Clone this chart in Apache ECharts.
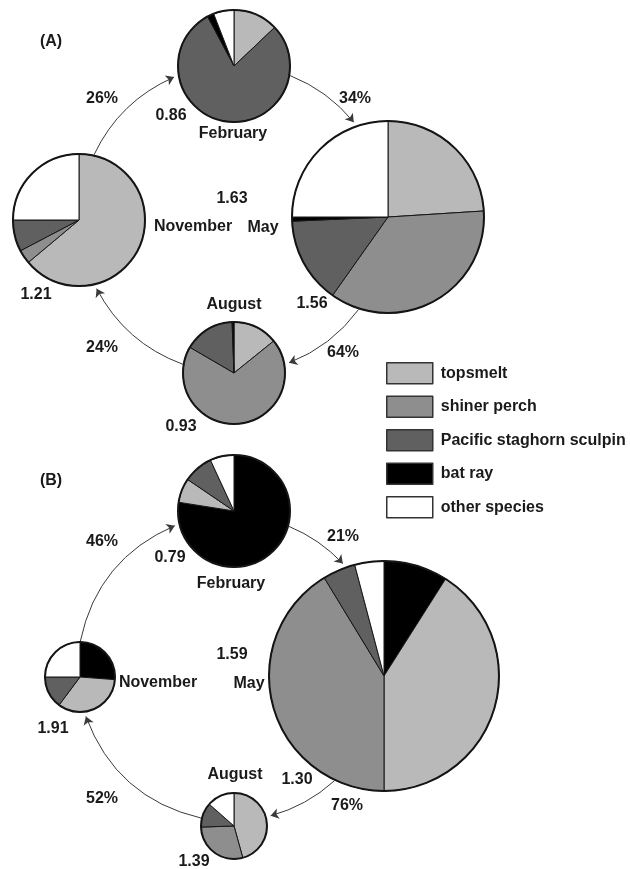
<!DOCTYPE html>
<html><head><meta charset="utf-8">
<script src="https://cdn.jsdelivr.net/npm/echarts@6/dist/echarts.min.js"></script>
<style>html,body{margin:0;padding:0;background:#fff}#c{width:630px;height:869px}</style>
</head><body><div id="c"></div>
<script>
// ---- data ----
const species = ['topsmelt', 'shiner perch', 'Pacific staghorn sculpin', 'bat ray', 'other species'];
const months = ['February', 'May', 'August', 'November'];
// diet composition (%) per month, in species order
const panelA_February = [12.9, 0, 79.2, 1.9, 5.9];
const panelA_May      = [24.0, 35.8, 14.5, 0.7, 25.0];
const panelA_August   = [14.2, 69.2, 16.0, 0.6, 0];
const panelA_November = [63.9, 3.4, 7.7, 0, 25.0];
const panelB_February = [7.0, 0, 8.6, 77.5, 6.9];
const panelB_May      = [41.0, 41.3, 4.6, 9.0, 4.1];
const panelB_August   = [45.7, 28.8, 12.0, 0, 13.5];
const panelB_November = [34.0, 0, 14.8, 26.2, 25.0];
// transition percentages (Nov->Feb, Feb->May, May->Aug, Aug->Nov)
const transferA = ['26%', '34%', '64%', '24%'];
const transferB = ['46%', '21%', '76%', '52%'];
// values printed beside the pies (February, May upper, May lower, August, November)
const indexA = ['0.86', '1.63', '1.56', '0.93', '1.21'];
const indexB = ['0.79', '1.59', '1.30', '1.39', '1.91'];

// ---- styles / layout ----
const speciesColors = ['#b9b9b9', '#8e8e8e', '#606060', '#000000', '#ffffff'];
const sliceOrderA = [0, 1, 2, 3, 4];
const sliceOrderB = [3, 0, 1, 2, 4];
const panels = [
  { name: '(A)', namePos: [51, 42], values: [panelA_February, panelA_May, panelA_August, panelA_November], order: sliceOrderA,
    centers: [[234, 66], [388, 217], [234, 373], [79, 220]], radii: [56, 96, 51, 66],
    track: [234, 219, 154],
    monthPos: [[233, 134], [263, 228], [234, 305], [193, 227]],
    transfer: transferA, transferPos: [[102, 99], [355, 99], [343, 353], [102, 348]],
    index: indexA, indexPos: [[171, 116], [232, 199], [312, 304], [181, 427], [36, 295]] },
  { name: '(B)', namePos: [51, 481], values: [panelB_February, panelB_May, panelB_August, panelB_November], order: sliceOrderB,
    centers: [[234, 511], [384, 676], [234, 826], [80, 677]], radii: [56, 115, 33, 35],
    track: [231, 668, 153],
    monthPos: [[231, 584], [249, 684], [235, 775], [158, 683]],
    transfer: transferB, transferPos: [[102, 542], [343, 537], [347, 806], [102, 799]],
    index: indexB, indexPos: [[170, 558], [232, 655], [297, 780], [194, 862], [53, 729]] }
];
const FONT = { fontSize: 16, fontWeight: 'bold', fontFamily: '"Liberation Sans", Arial, sans-serif', fill: '#1a1a1a' };

const series = [];
const graphic = [];
const arcData = [];

function text(t, p) {
  graphic.push({ type: 'text', x: p[0], y: p[1], silent: true,
    style: Object.assign({ text: t, align: 'center', verticalAlign: 'middle' }, FONT) });
}

panels.forEach(function (pn) {
  text(pn.name, pn.namePos);
  pn.values.forEach(function (vals, m) {
    const data = pn.order.filter(function (k) { return vals[k] > 0; }).map(function (k) {
      return { name: species[k], value: vals[k], itemStyle: { color: speciesColors[k] } };
    });
    series.push({ type: 'pie', center: pn.centers[m], radius: pn.radii[m], startAngle: 90, clockwise: true,
      silent: true, label: { show: false }, labelLine: { show: false }, avoidLabelOverlap: false, z: 3,
      itemStyle: { borderColor: '#151515', borderWidth: 1 }, data: data });
    series.push({ type: 'pie', center: pn.centers[m], radius: pn.radii[m], silent: true, z: 4,
      label: { show: false }, labelLine: { show: false }, legendHoverLink: false,
      itemStyle: { color: 'rgba(0,0,0,0)', borderColor: '#151515', borderWidth: 2 },
      data: [{ name: 'outline', value: 1 }] });
    text(months[m], pn.monthPos[m]);
  });
  pn.transfer.forEach(function (t, i) { text(t, pn.transferPos[i]); });
  pn.index.forEach(function (t, i) { text(t, pn.indexPos[i]); });

  // arcs along the track circle: Nov -> Feb -> May -> Aug -> Nov (clockwise)
  const tx = pn.track[0], ty = pn.track[1], R = pn.track[2];
  const seq = [3, 0, 1, 2, 3];
  function geo(m) {
    const c = pn.centers[m], r = pn.radii[m] + 1;
    const dx = c[0] - tx, dy = c[1] - ty, d = Math.hypot(dx, dy);
    const th = Math.atan2(dy, dx);
    const del = Math.acos((R * R + d * d - r * r) / (2 * R * d));
    return { th: th, del: del };
  }
  for (let i = 0; i < 4; i++) {
    const a = geo(seq[i]), b = geo(seq[i + 1]);
    let s = a.th + a.del, e = b.th - b.del - 4 / R;
    while (e < s) e += 2 * Math.PI;
    const phi = e - s;
    arcData.push({
      coords: [[tx + R * Math.cos(s), ty + R * Math.sin(s)], [tx + R * Math.cos(e), ty + R * Math.sin(e)]],
      lineStyle: { curveness: Math.tan(phi / 4) }
    });
  }
});

series.push({ type: 'lines', coordinateSystem: 'cartesian2d', silent: true, z: 2,
  symbol: ['none', 'arrow'], symbolSize: 8,
  lineStyle: { color: '#3a3a3a', width: 1, opacity: 1 }, data: arcData });

const option = {
  animation: false,
  grid: { left: 0, right: 0, top: 0, bottom: 0 },
  xAxis: { type: 'value', min: 0, max: 630, show: false },
  yAxis: { type: 'value', min: 0, max: 869, inverse: true, show: false },
  legend: { data: species, orient: 'vertical', left: 386, top: 362, padding: 0, itemWidth: 46, itemHeight: 21, itemGap: 11,
    icon: 'rect', selectedMode: false,
    itemStyle: { borderColor: '#333', borderWidth: 1.5 },
    textStyle: { fontSize: 16, fontWeight: 'bold', fontFamily: '"Liberation Sans", Arial, sans-serif', color: '#1a1a1a', padding: [0, 0, 0, 3] } },
  graphic: graphic,
  series: series
};
const chart = echarts.init(document.getElementById('c'), null, { renderer: 'canvas' });
chart.setOption(option);
</script></body></html>
